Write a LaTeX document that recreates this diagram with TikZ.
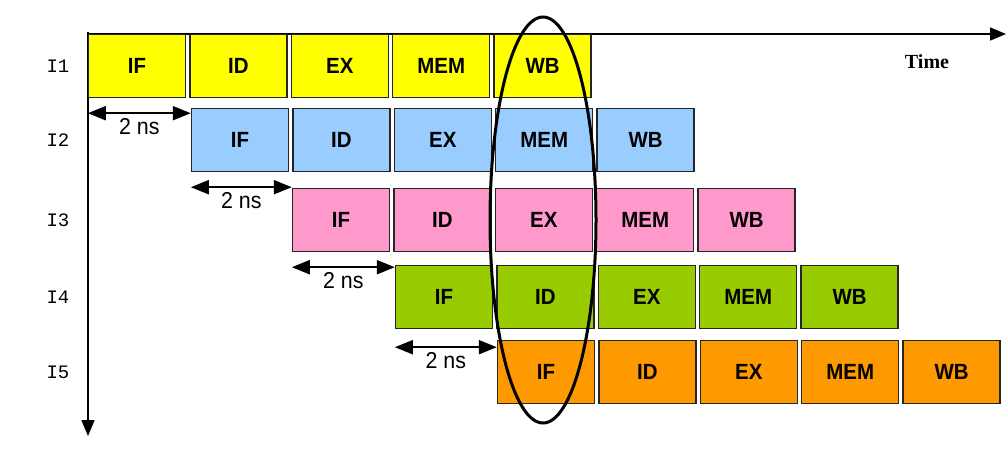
\documentclass[tikz,border=0pt]{standalone}
\usepackage{fontspec}
\newfontfamily\arialfont{Liberation Sans}[FakeStretch=0.93]
\newfontfamily\courfont{Liberation Mono}
\newfontfamily\timesfont{Liberation Serif}
\usetikzlibrary{positioning,arrows.meta}
\definecolor{rowyellow}{HTML}{FFFF00}
\definecolor{rowblue}{HTML}{99CCFF}
\definecolor{rowpink}{HTML}{FF99CC}
\definecolor{rowgreen}{HTML}{99CC00}
\definecolor{roworange}{HTML}{FF9900}
\begin{document}
\begin{tikzpicture}
[x=1pt,y=-1pt,
stage/.style={draw=black!85,line width=1.4pt,minimum width=97pt,minimum height=63pt,inner sep=0pt},
rowlabel/.style={font=\courfont\fontsize{19}{22}\selectfont},
span/.style={line width=2pt,{Triangle[length=18pt,width=14pt]}-{Triangle[length=18pt,width=14pt]}},
timeaxis/.style={line width=1.6pt,-{Triangle[length=16pt,width=13pt]}}
]
\tikzset{every node/.append style={font=\arialfont\bfseries\fontsize{22}{24}\selectfont}}
\useasboundingbox (0,0) rectangle (1006,472);
%\draw[help lines] (0,0) grid[step=50] (1006,472);
\coordinate (origin) at (88,32);
\coordinate (tend) at (1006,34);
\coordinate (yend) at (88,436);
\draw[timeaxis] (origin |- tend) -- (tend);
\draw[timeaxis] (origin) -- (yend);
\node[font=\timesfont\bfseries\fontsize{20}{24}\selectfont] (time) at (927,62) {Time};

% I1
\node[stage,fill=rowyellow] (i1if) at (137,66) {IF};
\node[stage,fill=rowyellow,right=3pt of i1if] (i1id) {ID};
\node[stage,fill=rowyellow,right=3pt of i1id] (i1ex) {EX};
\node[stage,fill=rowyellow,right=3pt of i1ex] (i1mem) {MEM};
\node[stage,fill=rowyellow,right=3pt of i1mem] (i1wb) {WB};
% I2
\node[stage,fill=rowblue] (i2if) at (240,140) {IF};
\node[stage,fill=rowblue,right=3pt of i2if] (i2id) {ID};
\node[stage,fill=rowblue,right=3pt of i2id] (i2ex) {EX};
\node[stage,fill=rowblue,right=3pt of i2ex] (i2mem) {MEM};
\node[stage,fill=rowblue,right=3pt of i2mem] (i2wb) {WB};
% I3
\node[stage,fill=rowpink] (i3if) at (341,220) {IF};
\node[stage,fill=rowpink,right=3pt of i3if] (i3id) {ID};
\node[stage,fill=rowpink,right=3pt of i3id] (i3ex) {EX};
\node[stage,fill=rowpink,right=3pt of i3ex] (i3mem) {MEM};
\node[stage,fill=rowpink,right=3pt of i3mem] (i3wb) {WB};
% I4
\node[stage,fill=rowgreen] (i4if) at (444,297) {IF};
\node[stage,fill=rowgreen,right=3pt of i4if] (i4id) {ID};
\node[stage,fill=rowgreen,right=3pt of i4id] (i4ex) {EX};
\node[stage,fill=rowgreen,right=3pt of i4ex] (i4mem) {MEM};
\node[stage,fill=rowgreen,right=3pt of i4mem] (i4wb) {WB};
% I5
\node[stage,fill=roworange] (i5if) at (546,372) {IF};
\node[stage,fill=roworange,right=3pt of i5if] (i5id) {ID};
\node[stage,fill=roworange,right=3pt of i5id] (i5ex) {EX};
\node[stage,fill=roworange,right=3pt of i5ex] (i5mem) {MEM};
\node[stage,fill=roworange,right=3pt of i5mem] (i5wb) {WB};

\node[rowlabel] (l1) at (58,66) {I1};
\node[rowlabel] (l2) at (58,140) {I2};
\node[rowlabel] (l3) at (58,220) {I3};
\node[rowlabel] (l4) at (58,297) {I4};
\node[rowlabel] (l5) at (58,372) {I5};

% 2 ns steps
\tikzset{every node/.append style={font=\arialfont\fontsize{23}{24}\selectfont}}
\draw[span] ([yshift=-15pt]i1if.south west) -- ([yshift=-15pt]i1if.south west -| i2if.west) node[midway,below=1pt] {2 ns};
\draw[span] ([yshift=-15pt]i2if.south west) -- ([yshift=-15pt]i2if.south west -| i3if.west) node[midway,below=1pt] {2 ns};
\draw[span] ([yshift=-15pt]i3if.south west) -- ([yshift=-15pt]i3if.south west -| i4if.west) node[midway,below=1pt] {2 ns};
\draw[span] ([yshift=-18pt]i4if.south west) -- ([yshift=-18pt]i4if.south west -| i5if.west) node[midway,below=1pt] {2 ns};

\draw[line width=3pt] (543,220) ellipse (53 and 203);
\end{tikzpicture}
\end{document}
